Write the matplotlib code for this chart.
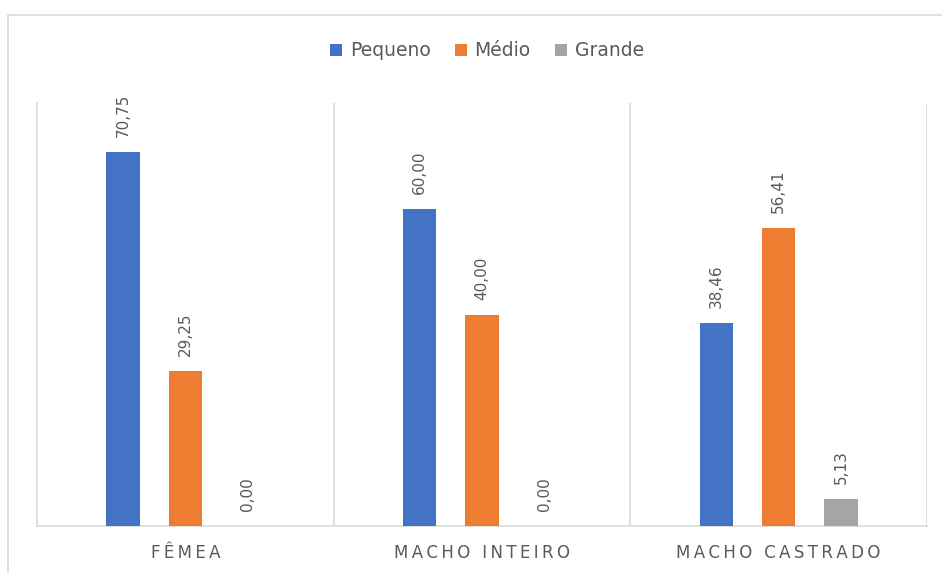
import numpy as np
import matplotlib.pyplot as plt
from matplotlib.patches import Rectangle

# dados
categorias = ["FÊMEA", "MACHO INTEIRO", "MACHO CASTRADO"]
series = ["Pequeno", "Médio", "Grande"]
pequeno = [70.75, 60.00, 38.46]
medio = [29.25, 40.00, 56.41]
grande = [0.00, 0.00, 5.13]
cores = ["#4472C4", "#ED7D31", "#A5A5A5"]

texto = "#595959"
grade = "#D9D9D9"

fig = plt.figure(figsize=(9.42, 5.72), dpi=100)
ax = fig.add_axes([37 / 942, 1 - 526 / 572, 890 / 942, 423 / 572])

# moldura do grafico
fig.patches.append(Rectangle((8 / 942, -0.05), 1.0, 1 - 15 / 572 + 0.05,
                             transform=fig.transFigure, fill=False,
                             edgecolor="#D9D9D9", linewidth=1.2))

x = np.arange(len(categorias))
larg = 0.112
passo = 0.21

for i, (nome, vals) in enumerate(zip(series, [pequeno, medio, grande])):
    pos = x + (i - 1) * passo
    ax.bar(pos, vals, width=larg, color=cores[i], label=nome, zorder=3)
    for p, v in zip(pos, vals):
        ax.annotate(f"{v:.2f}".replace(".", ","), (p, v),
                    xytext=(0, 15), textcoords="offset pixels",
                    rotation=90, ha="center", va="bottom",
                    fontsize=11, color=texto)

ax.set_xlim(-0.5, 2.5)
ax.set_ylim(0, 80)
ax.set_yticks([])
ax.set_xticks(x)
ax.set_xticklabels(["\u2009".join(c) for c in categorias], fontsize=12, color=texto)
ax.tick_params(axis="x", length=0, pad=13)

for b in [0.5, 1.5, 2.5]:
    ax.axvline(b, color=grade, linewidth=1.2, zorder=1)
for s in ["top", "right"]:
    ax.spines[s].set_visible(False)
ax.spines["left"].set_color(grade)
ax.spines["left"].set_linewidth(1.2)
ax.spines["bottom"].set_color(grade)
ax.spines["bottom"].set_linewidth(1.2)

leg = fig.legend(loc="center", bbox_to_anchor=(487 / 942, 1 - 51 / 572), ncol=3,
                 frameon=False, fontsize=13.5, handlelength=0.65, handleheight=0.65,
                 handletextpad=0.4, columnspacing=1.3)
for t in leg.get_texts():
    t.set_color(texto)

fig.savefig("out.png", dpi=100)
